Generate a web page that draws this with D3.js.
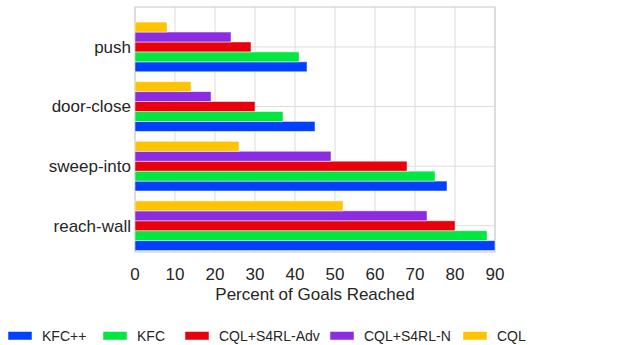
<!DOCTYPE html>
<html><head><meta charset="utf-8">
<script src="https://cdn.jsdelivr.net/npm/d3@7"></script>
<style>body{margin:0;background:#fff;} text{font-family:"Liberation Sans",Arial,sans-serif;}</style>
</head><body>
<svg id="c" width="624" height="345"></svg>
<script>
const categories = ["reach-wall", "sweep-into", "door-close", "push"];
const seriesNames = ["KFC++", "KFC", "CQL+S4RL-Adv", "CQL+S4RL-N", "CQL"];
const colors = ["#0041ff", "#00e83f", "#e8000b", "#8b2be2", "#ffc400"];
const kfcpp = [90, 78, 45, 43];
const kfc = [88, 75, 37, 41];
const cqlAdv = [80, 68, 30, 29];
const cqlN = [73, 49, 19, 24];
const cql = [52, 26, 14, 8];
const xTicks = [0, 10, 20, 30, 40, 50, 60, 70, 80, 90];
const xLabel = "Percent of Goals Reached";

const series = [kfcpp, kfc, cqlAdv, cqlN, cql];
const svg = d3.select("#c");
const L = 135, R = 495, T = 7, B = 252;
const x = d3.scaleLinear().domain([0, 90]).range([L, R]);
const y = d3.scaleLinear().domain([-0.44, 3.67]).range([B, T]);
const bw = 1/6;
const off = d3.scaleLinear().domain([0, 4]).range([-2 * bw, 2 * bw]);

// grid
const g = svg.append("g");
g.selectAll("line.v").data(xTicks).join("line")
  .attr("x1", d => x(d)).attr("x2", d => x(d)).attr("y1", T).attr("y2", B)
  .attr("stroke", "#dcdcdc").attr("stroke-width", 1);
g.selectAll("line.h").data(categories).join("line")
  .attr("x1", L).attr("x2", R).attr("y1", (d, i) => y(i)).attr("y2", (d, i) => y(i))
  .attr("stroke", "#dcdcdc").attr("stroke-width", 1);
g.append("rect").attr("x", L).attr("y", T).attr("width", R - L).attr("height", B - T)
  .attr("fill", "none").attr("stroke", "#d0d0d0").attr("stroke-width", 1.2);

// bars
series.forEach((vals, s) => {
  svg.append("g").selectAll("rect").data(vals).join("rect")
    .attr("x", x(0))
    .attr("y", (d, i) => y(i + off(s) + bw / 2))
    .attr("width", d => x(d) - x(0))
    .attr("height", (d, i) => y(i + off(s) - bw / 2) - y(i + off(s) + bw / 2))
    .attr("fill", colors[s])
    .attr("stroke", "rgba(255,255,255,0.6)").attr("stroke-width", 0.8);
});

// y labels
svg.append("g").selectAll("text").data(categories).join("text")
  .attr("x", L - 4).attr("y", (d, i) => y(i)).attr("dy", "0.35em")
  .attr("text-anchor", "end").attr("font-size", 17).attr("fill", "#262626")
  .text(d => d);

// x ticks
svg.append("g").selectAll("text").data(xTicks).join("text")
  .attr("x", d => x(d)).attr("y", 280)
  .attr("text-anchor", "middle").attr("font-size", 17).attr("fill", "#262626")
  .text(d => d);
svg.append("text").attr("x", (L + R) / 2).attr("y", 300).attr("text-anchor", "middle")
  .attr("font-size", 17).attr("fill", "#262626").text(xLabel);

// legend
const legX = [8, 103, 185, 330, 463];
const lg = svg.append("g").selectAll("g").data(seriesNames).join("g")
  .attr("transform", (d, i) => `translate(${legX[i]},340)`);
lg.append("rect").attr("x", 0).attr("y", -8.5).attr("width", 24).attr("height", 8.5)
  .attr("fill", (d, i) => colors[i]).attr("stroke", "rgba(255,255,255,0.6)").attr("stroke-width", 0.8);
lg.append("text").attr("x", 34).attr("y", 0.5).attr("font-size", 14).attr("fill", "#262626").text(d => d);
</script>
</body></html>
